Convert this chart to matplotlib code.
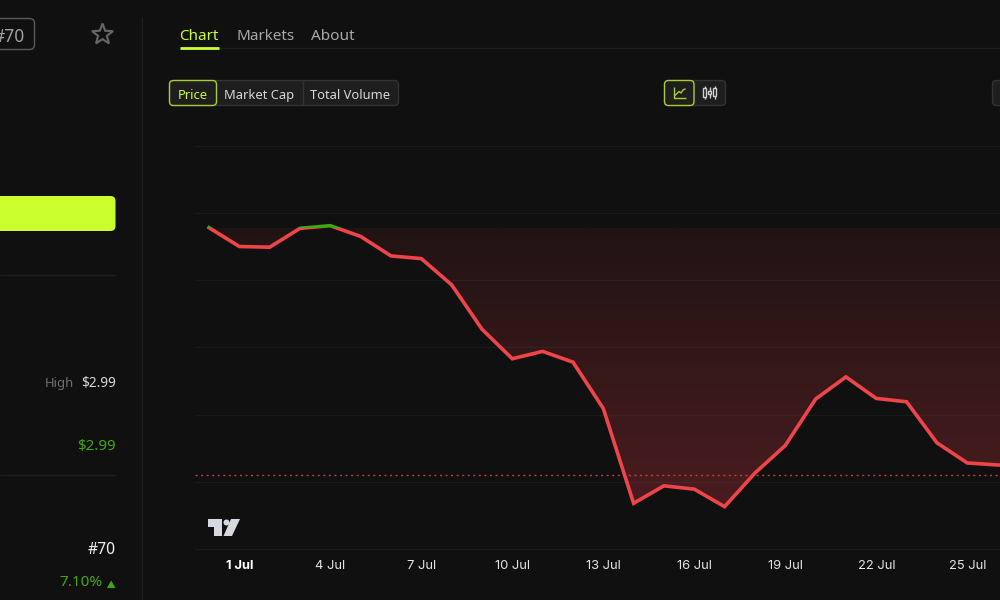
"""Recria o grafico de preco (tela escura) com matplotlib. Saida: out.png"""
import numpy as np
import matplotlib
matplotlib.use("Agg")
import matplotlib.pyplot as plt
from matplotlib.colors import to_rgb
from matplotlib.path import Path
from matplotlib.patches import FancyBboxPatch, Rectangle, Polygon, Circle, PathPatch

BG = "#101010"
LIME = "#ccff2e"
LIME_EDGE = "#a9cc35"
RED = "#ef4449"
GREEN = "#45a511"
GRID = "#1c1c1c"
UI_LINE = "#1e1e1e"

plt.rcParams["font.family"] = ["Noto Sans", "DejaVu Sans"]

# dias contados a partir de 30 Jun (dia 0)
days = list(range(28))
price = [2.978, 2.950, 2.949, 2.977, 2.981, 2.965, 2.936, 2.932, 2.893, 2.827,
         2.783, 2.794, 2.778, 2.709, 2.568, 2.594, 2.589, 2.563, 2.613, 2.654,
         2.723, 2.756, 2.724, 2.719, 2.658, 2.628, 2.625, 2.624]
base_price = 2.978
last_price = 2.6095
grid_prices = [3.1, 3.0, 2.9, 2.8, 2.7, 2.6]
tick_days = [1, 4, 7, 10, 13, 16, 19, 22, 25]
tick_labels = ["1 Jul", "4 Jul", "7 Jul", "10 Jul", "13 Jul", "16 Jul", "19 Jul", "22 Jul", "25 Jul"]
tabs = ["Chart", "Markets", "About"]
modes = ["Price", "Market Cap", "Total Volume"]

W, H = 1000, 600
fig = plt.figure(figsize=(10, 6), dpi=100, facecolor=BG)

# --- grafico ---
left, right, top, bottom = 195, 1000, 130, 549
ax = fig.add_axes([left / W, 1 - bottom / H, (right - left) / W, (bottom - top) / H], facecolor=BG)
x0 = 209
step = 30.33
xlim = ((left - x0) / step, (right - x0) / step)
ylim = (2.5, 3.0 + (213 - top) / 673)

# area com gradiente entre a linha e o preco base
poly = ax.fill_between(days, price, base_price, where=[p <= base_price for p in price],
                       interpolate=True, color="none", lw=0)
stops = np.linspace(0, 1, 256)[:, None, None]
grad = np.array(to_rgb("#201413"))[None, None, :] * (1 - stops) + np.array(to_rgb("#4a1c1f"))[None, None, :] * stops
img = ax.imshow(grad, extent=[xlim[0], xlim[1], 2.563, base_price], origin="upper",
                aspect="auto", zorder=1, interpolation="bilinear")
img.set_clip_path(PathPatch(Path.make_compound_path(*poly.get_paths()), transform=ax.transData))

for g in grid_prices:
    # a grade passa por cima da area, bem discreta
    ax.axhline(g, color="#ffffff", alpha=0.045, lw=1, zorder=2)
ax.axhline(last_price, color="#c23c40", lw=1, ls=(0, (1.5, 2.5)), zorder=3)

# linha: verde acima do preco base, vermelha abaixo
red_line, = ax.plot(days, price, color=RED, lw=2.6, zorder=4, solid_joinstyle="miter")
green_line, = ax.plot(days, price, color=GREEN, lw=2.6, zorder=4, solid_joinstyle="miter")
red_line.set_clip_path(Rectangle((xlim[0], ylim[0]), xlim[1] - xlim[0], base_price - ylim[0],
                                 transform=ax.transData))
green_line.set_clip_path(Rectangle((xlim[0], base_price), xlim[1] - xlim[0], ylim[1] - base_price,
                                   transform=ax.transData))

ax.set_xlim(*xlim)
ax.set_ylim(*ylim)
ax.set_yticks([])
ax.set_xticks(tick_days)
ax.set_xticklabels(tick_labels, fontsize=9.3, color="#e4e4e4", family=["Inter", "DejaVu Sans"])
ax.get_xticklabels()[0].set_fontweight("bold")
ax.get_xticklabels()[0].set_color("#ffffff")
ax.tick_params(axis="x", length=0, pad=8)
for side in ("top", "left", "right"):
    ax.spines[side].set_visible(False)
ax.spines["bottom"].set_color(GRID)

# --- camada de interface, em pixels ---
ui = fig.add_axes([0, 0, 1, 1], facecolor="none")
ui.set_xlim(0, W)
ui.set_ylim(H, 0)
ui.axis("off")


def box(x, y, w, h, fc, ec, lw=1.0, r=4):
    ui.add_patch(FancyBboxPatch((x + r, y + r), w - 2 * r, h - 2 * r,
                                boxstyle=f"round,pad={r},rounding_size={r}",
                                fc=fc, ec=ec, lw=lw))


def seg(xs, ys, color, lw=1.0):
    ui.plot(xs, ys, color=color, lw=lw, solid_capstyle="butt")


seg([142, 142], [17, 600], UI_LINE)
seg([218, 1000], [48, 48], UI_LINE)
seg([179.5, 218.5], [48, 48], LIME, 2)
seg([0, 115], [275, 275], UI_LINE)
seg([0, 115], [475, 475], UI_LINE)

# abas
for name, x, col in zip(tabs, [179.5, 236.5, 311], [LIME, "#a8a8a8", "#a8a8a8"]):
    ui.text(x, 36, name, color=col, fontsize=11, ha="left", va="center")

# seletor Price / Market Cap / Total Volume
box(169.5, 80.5, 229, 25, "#1e1e1e", "#333333")
box(169.5, 80.5, 47, 25, "#1e1e1e", LIME_EDGE, lw=1.0)
seg([302.5, 302.5], [81, 105], "#333333")
for name, x, col in zip(modes, [192.5, 259.5, 350.5], [LIME, "#d8d8d8", "#d8d8d8"]):
    ui.text(x, 95.5, name, color=col, fontsize=9.3, ha="center", va="center")

# botoes de tipo de grafico
box(664.5, 80.5, 61, 25, "#1e1e1e", "#333333")
box(664.5, 80.5, 29.5, 25, "#1e1e1e", LIME_EDGE, lw=1.0)
seg([673.5, 673.5, 686], [86.5, 98, 98], LIME_EDGE, 1)
ui.plot([675.5, 679, 681, 683, 685], [95, 91.5, 93, 90, 89], color=LIME_EDGE, lw=1)
for cx, y0, y1, by0, by1 in [(704.5, 86, 99, 88, 97), (709.5, 87, 98, 91, 94), (714.5, 86, 99, 88, 96)]:
    seg([cx, cx], [y0, y1], "#d0d0d0", 1)
    ui.add_patch(Rectangle((cx - 1.5, by0), 3, by1 - by0, fc="#1e1e1e", ec="#d0d0d0", lw=1, zorder=3))
box(992.5, 80.5, 30, 25, "#1e1e1e", "#333333")

# coluna da esquerda
box(-40, 18.5, 74.5, 31, "none", "#5a5a5a", r=5)
ui.text(25, 36.5, "#70", color="#a0a0a0", fontsize=12.5, ha="right", va="center")
ang = np.pi / 2 + np.arange(10) * np.pi / 5
rad = np.where(np.arange(10) % 2 == 0, 11, 4.6)
ui.add_patch(Polygon(np.c_[102.5 + rad * np.cos(ang), 34.5 - rad * np.sin(ang)],
                     closed=True, fc="none", ec="#666666", lw=1.5))
box(-20, 196, 135.5, 35, LIME, "none", r=5)

ui.text(73.5, 383.5, "High", color="#6e6e6e", fontsize=9.4, ha="right", va="center")
ui.text(115.5, 383, "$2.99", color="#d8d8d8", fontsize=9.8, ha="right", va="center")
ui.text(115.5, 446.5, "$2.99", color=GREEN, fontsize=10.9, ha="right", va="center")
ui.text(115.5, 550.5, "#70", color="#f0f0f0", fontsize=11.3, ha="right", va="center")
ui.text(102.5, 583, "7.10%", color=GREEN, fontsize=11, ha="right", va="center")
ui.add_patch(Polygon([(107, 588), (115.5, 588), (111.2, 580.5)], closed=True, fc=GREEN, ec="none"))

# logo no canto do grafico
LOGO = "#d6d9e2"
ui.add_patch(Polygon([(207.5, 519), (222, 519), (222, 536), (214, 536), (214, 526.5), (207.5, 526.5)],
                     closed=True, fc=LOGO, ec="none", zorder=6))
ui.add_patch(Circle((226.5, 522.5), 3, fc=LOGO, ec="none", zorder=6))
ui.add_patch(Polygon([(231, 519), (240, 519), (232, 536), (223.5, 536)],
                     closed=True, fc=LOGO, ec="none", zorder=6))

fig.savefig("out.png", dpi=100, facecolor=BG)
